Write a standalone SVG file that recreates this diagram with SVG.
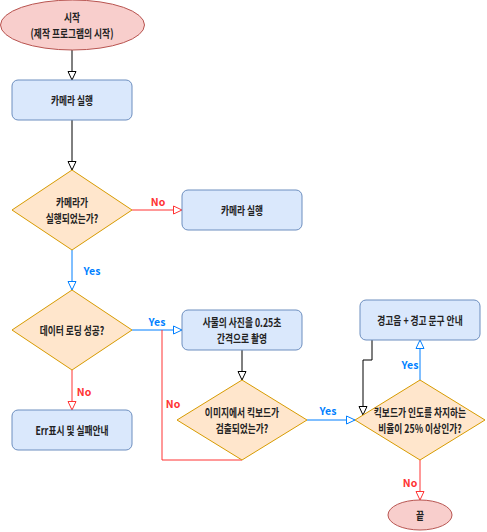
<svg xmlns="http://www.w3.org/2000/svg" width="487" height="532" viewBox="0 0 487 532">
<style>
text{font-family:"Noto Sans CJK KR","Liberation Sans",sans-serif;font-size:10.5px;font-weight:bold;fill:#222;text-anchor:middle;dominant-baseline:central}
text.n{font-size:11.5px}
.term{fill:#f8cecc;stroke:#b85450;stroke-width:1}
.proc{fill:#dae8fc;stroke:#6c8ebf;stroke-width:1}
.dec{fill:#ffe6cc;stroke:#d79b00;stroke-width:1}
.k{stroke:#000;fill:none;stroke-width:1}
.r{stroke:#ff3333;fill:none;stroke-width:1}
.b{stroke:#007fff;fill:none;stroke-width:1}
.lr{fill:#ff3333}
.lb{fill:#007fff}
</style>
<defs>
<marker id="ak" viewBox="0 0 10 10" refX="9.5" refY="5" markerWidth="10" markerHeight="10" markerUnits="userSpaceOnUse" orient="auto"><path d="M1,1 L9.5,5 L1,9 Z" fill="#fff" stroke="#000"/></marker>
<marker id="ar" viewBox="0 0 10 10" refX="9.5" refY="5" markerWidth="10" markerHeight="10" markerUnits="userSpaceOnUse" orient="auto"><path d="M1,1 L9.5,5 L1,9 Z" fill="#fff" stroke="#ff3333"/></marker>
<marker id="ab" viewBox="0 0 10 10" refX="9.5" refY="5" markerWidth="10" markerHeight="10" markerUnits="userSpaceOnUse" orient="auto"><path d="M1,1 L9.5,5 L1,9 Z" fill="#fff" stroke="#007fff"/></marker>
</defs>
<rect width="487" height="532" fill="#fff"/>
<g id="connectors">
<path class="k" d="M72,50 L72,80" marker-end="url(#ak)"/>
<path class="k" d="M72,120 L72,170" marker-end="url(#ak)"/>
<path class="r" d="M132,210 L182,210" marker-end="url(#ar)"/>
<path class="b" d="M72,250 L72,290" marker-end="url(#ab)"/>
<path class="b" d="M132,330 L182,330" marker-end="url(#ab)"/>
<path class="r" d="M72,370 L72,410" marker-end="url(#ar)"/>
<path class="k" d="M242,350 L242,380" marker-end="url(#ak)"/>
<path class="r" d="M242,460 L162,460 L162,330"/>
<path class="b" d="M307,420 L355,420" marker-end="url(#ab)"/>
<path class="b" d="M420,380 L420,340" marker-end="url(#ab)"/>
<path class="k" d="M372,340 L372,360 L363,360 L363,415" marker-end="url(#ak)"/>
<path class="r" d="M420,460 L420,500" marker-end="url(#ar)"/>
<text class="lr" x="158" y="201">No</text>
<text class="lb" x="92" y="270">Yes</text>
<text class="lb" x="157" y="321">Yes</text>
<text class="lr" x="84" y="391">No</text>
<text class="lr" x="173" y="403">No</text>
<text class="lb" x="328" y="410">Yes</text>
<text class="lb" x="410" y="364">Yes</text>
<text class="lr" x="410" y="482">No</text>
</g>
<g id="start"><ellipse class="term" cx="72.5" cy="25" rx="72" ry="25"/><text class="n" transform="matrix(0.76 0 0 1 17.28 0)" x="72" y="17">시작</text><text class="n" transform="matrix(0.76 0 0 1 17.28 0)" x="72" y="33">(제작 프로그램의 시작)</text></g>
<g id="camera-run"><rect class="proc" x="12" y="80" width="120" height="40" rx="6"/><text class="n" transform="matrix(0.76 0 0 1 17.28 0)" x="72" y="100">카메라 실행</text></g>
<g id="camera-check"><path class="dec" d="M72,170 L132,210 L72,250 L12,210 Z"/><text class="n" transform="matrix(0.76 0 0 1 17.28 0)" x="72" y="202">카메라가</text><text class="n" transform="matrix(0.76 0 0 1 17.28 0)" x="72" y="218">실행되었는가?</text></g>
<g id="camera-run2"><rect class="proc" x="182" y="190" width="120" height="40" rx="6"/><text class="n" transform="matrix(0.76 0 0 1 58.08 0)" x="242" y="210">카메라 실행</text></g>
<g id="data-check"><path class="dec" d="M72,290 L132,330 L72,370 L12,330 Z"/><text class="n" transform="matrix(0.76 0 0 1 17.28 0)" x="72" y="330">데이터 로딩 성공?</text></g>
<g id="photo"><rect class="proc" x="182" y="310" width="120" height="40" rx="6"/><text class="n" transform="matrix(0.76 0 0 1 58.08 0)" x="242" y="322">사물의 사진을 0.25초</text><text class="n" transform="matrix(0.76 0 0 1 58.08 0)" x="242" y="338">간격으로 촬영</text></g>
<g id="err"><rect class="proc" x="12" y="410" width="120" height="40" rx="6"/><text class="n" transform="matrix(0.76 0 0 1 17.28 0)" x="72" y="430">Err표시 및 실패안내</text></g>
<g id="detect"><path class="dec" d="M242,380 L307,420 L242,460 L177,420 Z"/><text class="n" transform="matrix(0.76 0 0 1 58.08 0)" x="242" y="412">이미지에서 킥보드가</text><text class="n" transform="matrix(0.76 0 0 1 58.08 0)" x="242" y="428">검출되었는가?</text></g>
<g id="ratio"><path class="dec" d="M420,380 L485,420 L420,460 L355,420 Z"/><text class="n" transform="matrix(0.76 0 0 1 100.8 0)" x="420" y="412">킥보드가 인도를 차지하는</text><text class="n" transform="matrix(0.76 0 0 1 100.8 0)" x="420" y="428">비율이 25% 이상인가?</text></g>
<g id="warn"><rect class="proc" x="360" y="300" width="120" height="40" rx="6"/><text class="n" transform="matrix(0.76 0 0 1 100.8 0)" x="420" y="320">경고음 + 경고 문구 안내</text></g>
<g id="end"><ellipse class="term" cx="420" cy="515" rx="32" ry="15"/><text class="n" transform="matrix(0.76 0 0 1 100.8 0)" x="420" y="515">끝</text></g>
</svg>
